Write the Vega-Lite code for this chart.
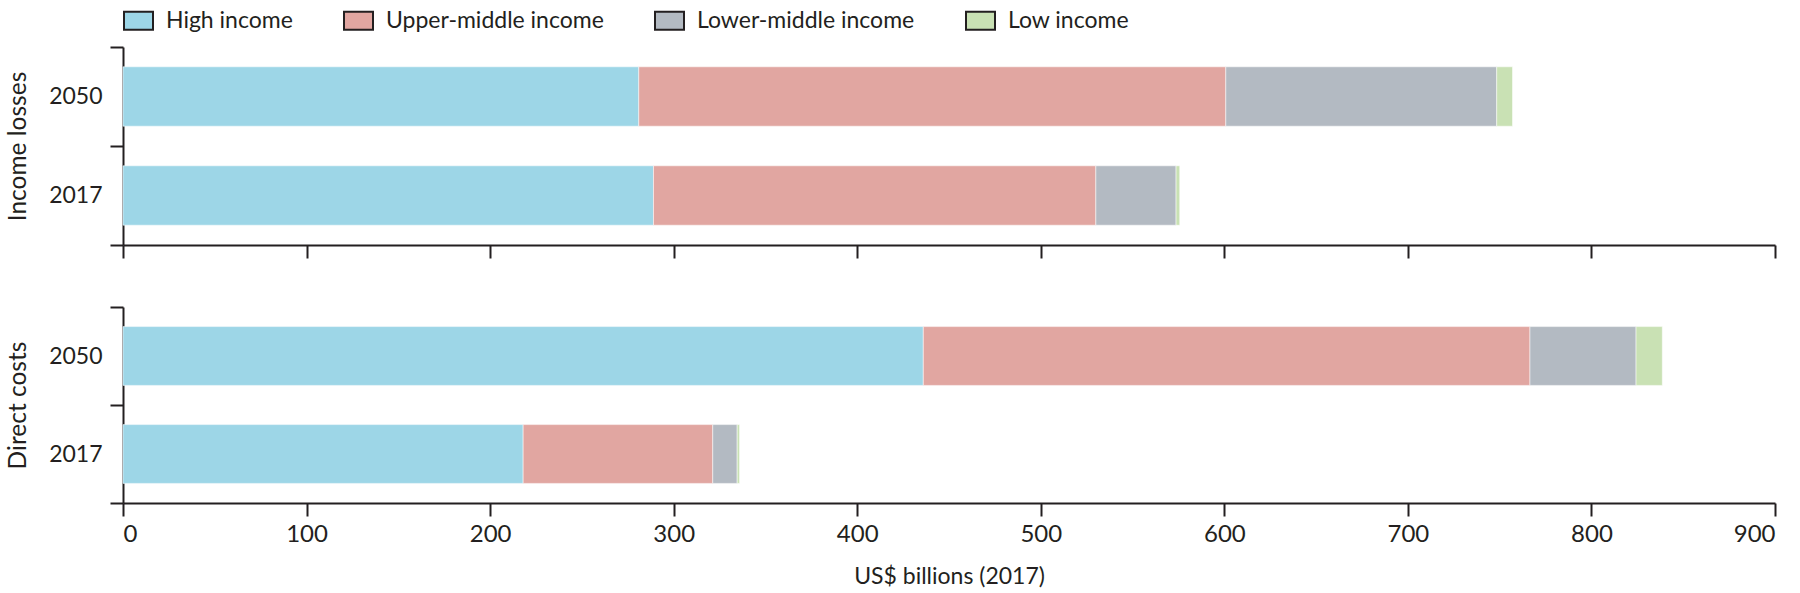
{
  "$schema": "https://vega.github.io/schema/vega-lite/v6.json",
  "background": "white",
  "padding": 5,
  "data": {
    "values": [
      {"panel": "Income losses", "year": "2050", "group": "High income", "idx": 1, "value": 281},
      {"panel": "Income losses", "year": "2050", "group": "Upper-middle income", "idx": 2, "value": 319.8},
      {"panel": "Income losses", "year": "2050", "group": "Lower-middle income", "idx": 3, "value": 147.6},
      {"panel": "Income losses", "year": "2050", "group": "Low income", "idx": 4, "value": 8.6},
      {"panel": "Income losses", "year": "2017", "group": "High income", "idx": 1, "value": 289},
      {"panel": "Income losses", "year": "2017", "group": "Upper-middle income", "idx": 2, "value": 241},
      {"panel": "Income losses", "year": "2017", "group": "Lower-middle income", "idx": 3, "value": 43.7},
      {"panel": "Income losses", "year": "2017", "group": "Low income", "idx": 4, "value": 2},
      {"panel": "Direct costs", "year": "2050", "group": "High income", "idx": 1, "value": 436},
      {"panel": "Direct costs", "year": "2050", "group": "Upper-middle income", "idx": 2, "value": 330.5},
      {"panel": "Direct costs", "year": "2050", "group": "Lower-middle income", "idx": 3, "value": 57.8},
      {"panel": "Direct costs", "year": "2050", "group": "Low income", "idx": 4, "value": 14.3},
      {"panel": "Direct costs", "year": "2017", "group": "High income", "idx": 1, "value": 218},
      {"panel": "Direct costs", "year": "2017", "group": "Upper-middle income", "idx": 2, "value": 103.3},
      {"panel": "Direct costs", "year": "2017", "group": "Lower-middle income", "idx": 3, "value": 13.3},
      {"panel": "Direct costs", "year": "2017", "group": "Low income", "idx": 4, "value": 1.3}
    ]
  },
  "vconcat": [
    {
      "width": 1652,
      "height": 198,
      "transform": [{"filter": "datum.panel === 'Income losses'"}],
      "mark": {"type": "bar", "height": {"band": 0.6}, "stroke": "#ffffff", "strokeWidth": 1, "strokeOpacity": 0.5},
      "encoding": {
        "y": {
          "field": "year", "type": "nominal", "sort": ["2050", "2017"],
          "scale": {"paddingInner": 0, "paddingOuter": 0},
          "axis": {"title": "Income losses"}
        },
        "x": {
          "field": "value", "type": "quantitative", "stack": "zero",
          "scale": {"domain": [0, 900], "nice": false},
          "axis": {"labels": false, "title": null, "values": [0, 100, 200, 300, 400, 500, 600, 700, 800, 900]}
        },
        "color": {
          "field": "group", "type": "nominal",
          "scale": {
            "domain": ["High income", "Upper-middle income", "Lower-middle income", "Low income"],
            "range": ["#9dd6e7", "#e1a6a1", "#b3bac2", "#c9e1b4"]
          },
          "legend": {"title": null}
        },
        "order": {"field": "idx", "type": "quantitative"}
      }
    },
    {
      "width": 1652,
      "height": 196,
      "transform": [{"filter": "datum.panel === 'Direct costs'"}],
      "mark": {"type": "bar", "height": {"band": 0.6}, "stroke": "#ffffff", "strokeWidth": 1, "strokeOpacity": 0.5},
      "encoding": {
        "y": {
          "field": "year", "type": "nominal", "sort": ["2050", "2017"],
          "scale": {"paddingInner": 0, "paddingOuter": 0},
          "axis": {"title": "Direct costs"}
        },
        "x": {
          "field": "value", "type": "quantitative", "stack": "zero",
          "scale": {"domain": [0, 900], "nice": false},
          "axis": {"title": "US$ billions (2017)", "values": [0, 100, 200, 300, 400, 500, 600, 700, 800, 900]}
        },
        "color": {
          "field": "group", "type": "nominal",
          "scale": {
            "domain": ["High income", "Upper-middle income", "Lower-middle income", "Low income"],
            "range": ["#9dd6e7", "#e1a6a1", "#b3bac2", "#c9e1b4"]
          },
          "legend": {"title": null}
        },
        "order": {"field": "idx", "type": "quantitative"}
      }
    }
  ],
  "resolve": {"scale": {"y": "independent"}},
  "config": {
    "font": "Lato",
    "view": {"stroke": null},
    "concat": {"spacing": 37},
    "axis": {
      "domainColor": "#231f20",
      "domainWidth": 2,
      "tickColor": "#231f20",
      "tickWidth": 2,
      "tickSize": 13,
      "labelColor": "#231f20",
      "labelFont": "Lato",
      "titleFont": "Lato",
      "titleColor": "#231f20",
      "titleFontWeight": "normal",
      "grid": false
    },
    "axisY": {
      "tickBand": "extent",
      "labelFontSize": 23,
      "labelPadding": 8,
      "titleFontSize": 24.5,
      "titlePadding": 18
    },
    "axisX": {
      "labelFontSize": 24,
      "labelPadding": 6,
      "titleFontSize": 23,
      "titlePadding": 19
    },
    "legend": {
      "orient": "top",
      "direction": "horizontal",
      "labelFont": "Lato",
      "labelFontSize": 23,
      "labelColor": "#231f20",
      "labelLimit": 0,
      "symbolType": "M-1,-0.62H1V0.62H-1Z",
      "symbolSize": 841,
      "symbolStrokeColor": "#231f20",
      "symbolStrokeWidth": 2,
      "symbolOpacity": 1,
      "labelOffset": 12,
      "columnPadding": 47,
      "offset": 2
    }
  }
}
